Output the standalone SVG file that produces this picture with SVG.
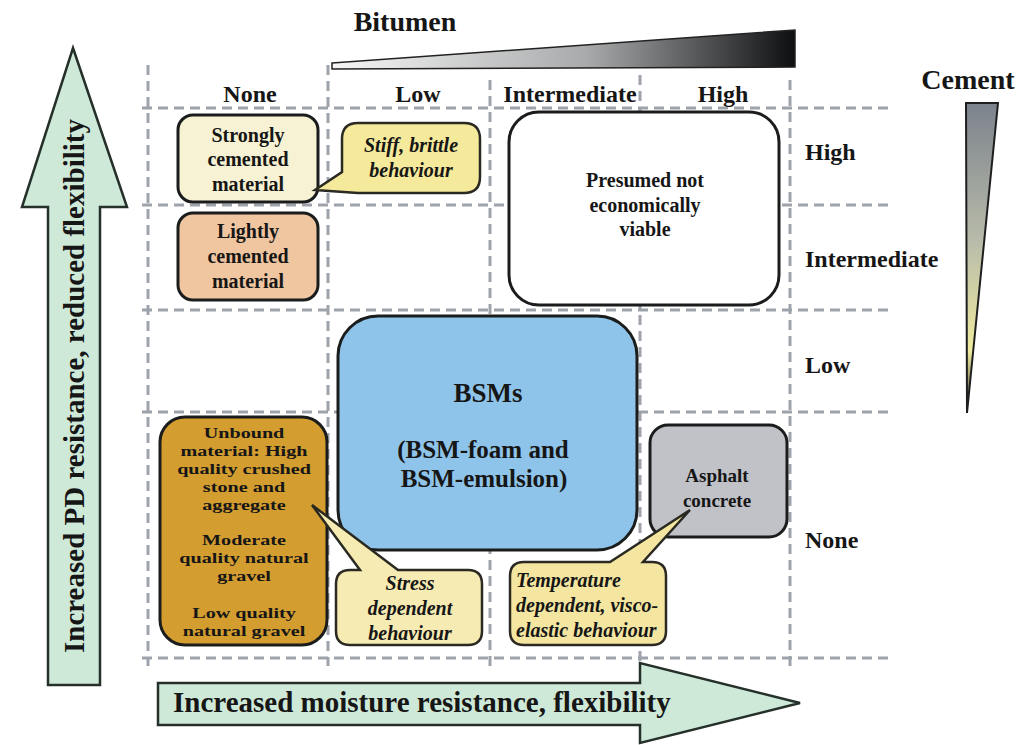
<svg xmlns="http://www.w3.org/2000/svg" width="1031" height="745" viewBox="0 0 1031 745">
<defs>
<linearGradient id="gBit" x1="0" y1="0" x2="1" y2="0">
<stop offset="0" stop-color="#f6f6f6"/><stop offset="0.55" stop-color="#a8aaab"/><stop offset="1" stop-color="#0e0f10"/>
</linearGradient>
<linearGradient id="gCem" x1="0" y1="0" x2="0" y2="1">
<stop offset="0" stop-color="#7b828c"/><stop offset="0.45" stop-color="#b9bcaa"/><stop offset="0.8" stop-color="#efeb9e"/><stop offset="1" stop-color="#3a3a30"/>
</linearGradient>
<style>
.grid{stroke:#9ea3ab;stroke-width:3;stroke-dasharray:10 6;fill:none}
.t{font-family:"Liberation Serif","Times New Roman",serif;font-weight:bold;fill:#161616}
.it{font-style:italic}
.c{text-anchor:middle}
.box{stroke:#1b1d1c;stroke-width:3}
.arrow{fill:#cfe9d9;stroke:#25302a;stroke-width:2.5}
.u{font-size:15.5px}
</style>
</defs>
<rect width="1031" height="745" fill="#ffffff"/>

<g id="grid">
<line class="grid" x1="148" y1="65" x2="148" y2="666"/>
<line class="grid" x1="328" y1="65" x2="328" y2="666"/>
<line class="grid" x1="490" y1="80" x2="490" y2="666"/>
<line class="grid" x1="640" y1="75" x2="640" y2="666"/>
<line class="grid" x1="790" y1="80" x2="790" y2="668"/>
<line class="grid" x1="142" y1="108" x2="888" y2="108"/>
<line class="grid" x1="142" y1="205" x2="888" y2="205"/>
<line class="grid" x1="142" y1="310" x2="888" y2="310"/>
<line class="grid" x1="142" y1="412" x2="888" y2="412"/>
<line class="grid" x1="142" y1="658" x2="888" y2="658"/>
</g>

<g id="bitumen-scale">
<polygon points="332,63 795,30 795,67 332,69" fill="url(#gBit)" stroke="#222" stroke-width="1.5"/>
<text class="t c" x="405" y="31" font-size="28">Bitumen</text>
<text class="t c" x="250" y="102" font-size="24">None</text>
<text class="t c" x="418" y="102" font-size="24">Low</text>
<text class="t c" x="570" y="102" font-size="24">Intermediate</text>
<text class="t c" x="723" y="102" font-size="24">High</text>
</g>

<g id="cement-scale">
<polygon points="966,103 998,103 967,413" fill="url(#gCem)" stroke="#1e1e1e" stroke-width="2"/>
<text class="t c" x="968" y="89" font-size="28">Cement</text>
<text class="t" x="805" y="160" font-size="24">High</text>
<text class="t" x="805" y="267" font-size="24">Intermediate</text>
<text class="t" x="805" y="373" font-size="24">Low</text>
<text class="t" x="805" y="548" font-size="24">None</text>
</g>

<g id="axis-pd">
<polygon class="arrow" points="73,48 127,207 100,207 100,685 48,685 48,207 22,207"/>
<text class="t c" x="84" y="386" font-size="29" transform="rotate(-90 84 386)">Increased PD resistance, reduced flexibility</text>
</g>

<g id="axis-moisture">
<polygon class="arrow" points="158,683 640,683 640,663 800,703 640,743 640,725 158,725"/>
<text class="t" x="173" y="712" font-size="29">Increased moisture resistance, flexibility</text>
</g>

<g id="strongly-cemented">
<rect class="box" x="178" y="115" width="140" height="87" rx="15" fill="#f6f2d3"/>
<text class="t c" x="248" y="142" font-size="20">Strongly</text>
<text class="t c" x="248" y="166" font-size="20">cemented</text>
<text class="t c" x="248" y="191" font-size="20">material</text>
</g>

<g id="stiff-callout">
<path d="M358,123 L464,123 Q480,123 480,139 L480,177 Q480,193 464,193 L358,193 L315,190 L342,172 L342,139 Q342,123 358,123 Z" fill="#f5e99b" stroke="#2a2a22" stroke-width="2.5"/>
<text class="t it c" x="411" y="152" font-size="20">Stiff, brittle</text>
<text class="t it c" x="411" y="177" font-size="20">behaviour</text>
</g>

<g id="lightly-cemented">
<rect class="box" x="178" y="213" width="140" height="87" rx="15" fill="#f0c6a0"/>
<text class="t c" x="248" y="238" font-size="20">Lightly</text>
<text class="t c" x="248" y="263" font-size="20">cemented</text>
<text class="t c" x="248" y="288" font-size="20">material</text>
</g>

<g id="not-viable">
<rect class="box" x="509" y="112" width="270" height="193" rx="30" fill="#ffffff"/>
<text class="t c" x="645" y="187" font-size="20">Presumed not</text>
<text class="t c" x="645" y="212" font-size="20">economically</text>
<text class="t c" x="645" y="236" font-size="20">viable</text>
</g>

<g id="bsms">
<rect class="box" x="338" y="316" width="299" height="234" rx="40" fill="#8ec4ea"/>
<text class="t c" x="488" y="402" font-size="27" fill="#1b2836">BSMs</text>
<text class="t c" x="483" y="458" font-size="25" fill="#1b2836">(BSM-foam and</text>
<text class="t c" x="484" y="487" font-size="25" fill="#1b2836">BSM-emulsion)</text>
</g>

<g id="unbound">
<rect class="box" x="160" y="417" width="167" height="228" rx="25" fill="#d49d30"/>
<g transform="translate(244 0) scale(1.3 1)">
<text class="t c u" x="0" y="438">Unbound</text>
<text class="t c u" x="0" y="456">material: High</text>
<text class="t c u" x="0" y="474">quality crushed</text>
<text class="t c u" x="0" y="492">stone and</text>
<text class="t c u" x="0" y="510">aggregate</text>
<text class="t c u" x="0" y="545">Moderate</text>
<text class="t c u" x="0" y="563">quality natural</text>
<text class="t c u" x="0" y="581">gravel</text>
<text class="t c u" x="0" y="618">Low quality</text>
<text class="t c u" x="0" y="636">natural gravel</text>
</g>
</g>

<g id="stress-callout">
<path d="M350,570 L360,570 L312,505 L398,570 L468,570 Q482,570 482,584 L482,631 Q482,645 468,645 L350,645 Q336,645 336,631 L336,584 Q336,570 350,570 Z" fill="#f6ebb2" stroke="#2a2a22" stroke-width="2.5"/>
<text class="t it c" x="410" y="590" font-size="20">Stress</text>
<text class="t it c" x="410" y="615" font-size="20">dependent</text>
<text class="t it c" x="410" y="640" font-size="20">behaviour</text>
</g>

<g id="asphalt">
<rect class="box" x="650" y="425" width="137" height="112" rx="18" fill="#c0c2c8"/>
<text class="t c" x="717" y="482" font-size="19" fill="#2a2c30">Asphalt</text>
<text class="t c" x="717" y="507" font-size="19" fill="#2a2c30">concrete</text>
</g>

<g id="temperature-callout">
<path d="M524,562 L610,562 L690,510 L643,562 L652,562 Q666,562 666,576 L666,631 Q666,645 652,645 L524,645 Q510,645 510,631 L510,576 Q510,562 524,562 Z" fill="#f4e6a0" stroke="#2a2a22" stroke-width="2.5"/>
<text class="t it" x="516" y="587" font-size="20">Temperature</text>
<text class="t it" x="516" y="612" font-size="20">dependent, visco-</text>
<text class="t it" x="516" y="637" font-size="20">elastic behaviour</text>
</g>
</svg>
